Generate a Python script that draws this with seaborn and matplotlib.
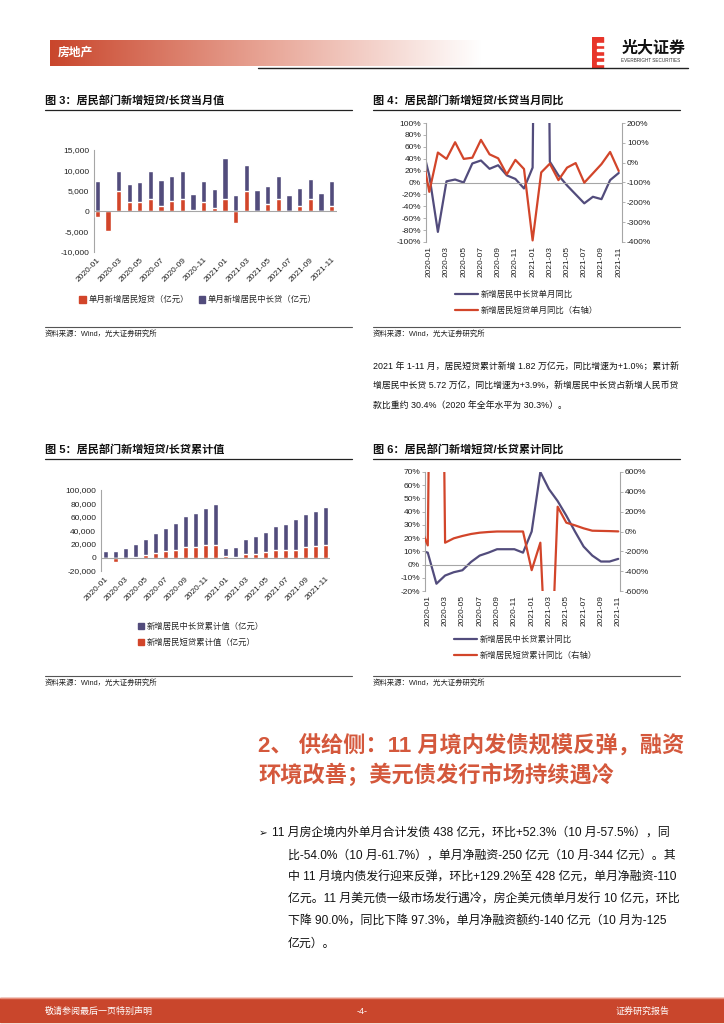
import numpy as np
import matplotlib
matplotlib.use("Agg")
import matplotlib.pyplot as plt
from matplotlib.patches import Rectangle, Patch
from matplotlib.lines import Line2D
from matplotlib.ticker import FuncFormatter, MultipleLocator
import seaborn as sns

W, H = 724, 1024

RED = "#D2452A"
PURPLE = "#524C7C"
GRAY = "#A6A6A6"
HEAD_RED = "#C9462C"

# ---- data ----
months = ["2020-01", "2020-02", "2020-03", "2020-04", "2020-05", "2020-06",
          "2020-07", "2020-08", "2020-09", "2020-10", "2020-11", "2020-12",
          "2021-01", "2021-02", "2021-03", "2021-04", "2021-05", "2021-06",
          "2021-07", "2021-08", "2021-09", "2021-10", "2021-11"]
tick_months = months[::2]

# fig 3: monthly new household short / long loans (100m yuan)
short_month = [-1400, -4900, 5000, 2150, 2150, 3070, 1160, 2570, 3070, 200, 2240, 830,
               3070, -2900, 4980, 100, 1660, 3070, 0, 1160, 3070, 0, 1160]
long_month = [7500, 250, 4950, 4480, 4980, 6800, 6470, 5970, 6800, 4100, 5220, 4640,
              9870, 3980, 6460, 5100, 4560, 5640, 3980, 4640, 4890, 4560, 6140]

# fig 4: monthly yoy (%), first point is 2019-12
line_months = ["2019-12"] + months
long_yoy_month = [70, 12, -83, 2, 5, 0, 32, 37, 23, 29, 12, 6, -10,
                  25, 1500, 35, 12, -5, -20, -35, -24, -28, 4, 16]
short_yoy_month = [84, -147, 51, 19, 103, 19, 25, 115, 42, 22, -59, 14, -32,
                   -392, -49, -5, -88, -25, -2, -101, -54, -7, 54, -42]

# fig 5: cumulative values (100m yuan)
short_cum = [-1500, -6400, -1300, 850, 3460, 7400, 9400, 11850, 15300, 15300, 17800, 18760,
             2500, 300, 5900, 5900, 7900, 11360, 11360, 11850, 15300, 16300, 18200]
long_cum = [8900, 8900, 14800, 18900, 24200, 28600, 35000, 40000, 46400, 50900, 55200, 60200,
            12300, 15500, 21300, 25700, 30100, 35000, 38500, 44500, 48900, 51900, 57200]

# fig 6: cumulative yoy (%), first point is 2019-12
long_yoy_cum = [11, 9, -14.5, -8.3, -5.8, -4.3, 2, 6.8, 9, 11.6, 11.6, 11.6, 9,
                25, 70, 57, 48, 37, 25, 13.6, 6.8, 2.3, 2.3, 4.3]
short_yoy_cum = [80, -140, 8000, -113, -69, -45, -25, -12, -5, 0, 0, 0, 0,
                 -390, -113, -2000, 250, 89, 62, 32, 8, 6, 4, 1]

para1 = ["2021 年 1-11 月，居民短贷累计新增 1.82 万亿元，同比增速为+1.0%；累计新",
         "增居民中长贷 5.72 万亿，同比增速为+3.9%，新增居民中长贷占新增人民币贷",
         "款比重约 30.4%（2020 年全年水平为 30.3%）。"]
heading = ["2、 供给侧：11 月境内发债规模反弹，融资",
           "环境改善；美元债发行市场持续遇冷"]
bullet = ["11 月房企境内外单月合计发债 438 亿元，环比+52.3%（10 月-57.5%），同",
          "比-54.0%（10 月-61.7%），单月净融资-250 亿元（10 月-344 亿元）。其",
          "中 11 月境内债发行迎来反弹，环比+129.2%至 428 亿元，单月净融资-110",
          "亿元。11 月美元债一级市场发行遇冷，房企美元债单月发行 10 亿元，环比",
          "下降 90.0%，同比下降 97.3%，单月净融资额约-140 亿元（10 月为-125",
          "亿元）。"]

sns.set_theme(style="white")
plt.rcParams["font.family"] = ["Liberation Sans", "Noto Sans CJK SC", "DejaVu Sans"]
plt.rcParams["axes.unicode_minus"] = False

fig = plt.figure(figsize=(W / 100, H / 100), dpi=100)


def px_axes(l, t, r, b):
    return fig.add_axes([l / W, 1 - b / H, (r - l) / W, (b - t) / H])


def ftext(x, y, s, **kw):
    kw.setdefault("va", "center")
    fig.text(x / W, 1 - y / H, s, **kw)


def hline(x0, x1, y, color="#333333", lw=0.8):
    fig.add_artist(Line2D([x0 / W, x1 / W], [1 - y / H, 1 - y / H], color=color, lw=lw))


def style_axis(ax):
    for s in ["top", "bottom", "right"]:
        ax.spines[s].set_visible(False)
    ax.spines["left"].set_color(GRAY)
    ax.spines["left"].set_linewidth(0.8)
    ax.tick_params(axis="both", labelsize=6, colors="#222222", length=2, width=0.6, pad=1.5)
    ax.tick_params(axis="y", color=GRAY)
    ax.tick_params(axis="x", length=0)
    ax.grid(False)
    ax.set_xlabel("")
    ax.set_ylabel("")


def right_spine(ax):
    ax.spines["left"].set_visible(False)
    ax.spines["right"].set_visible(True)
    ax.spines["right"].set_color(GRAY)
    ax.spines["right"].set_linewidth(0.8)


# ---- header / footer ----
grad = np.linspace(0, 1, 256).reshape(1, -1)
hax = px_axes(50, 40, 482, 66)
hax.imshow(grad, aspect="auto", extent=(0, 1, 0, 1),
           cmap=matplotlib.colors.LinearSegmentedColormap.from_list("g", [HEAD_RED, "#E8A596", "#FFFFFF"]))
hax.axis("off")
ftext(58, 53, "房地产", color="white", fontsize=8.5, fontweight="bold")
hline(258, 688, 67.5, color="#222222", lw=1.0)

lax = px_axes(592, 37, 606, 69)
lax.set_xlim(0, 1)
lax.set_ylim(0, 1)
lax.axis("off")
lax.add_patch(Rectangle((0, 0), 0.75, 1, color="#E8352A"))
for yy in [0.2, 0.4, 0.6, 0.8]:
    lax.add_patch(Rectangle((0.35, yy - 0.04), 0.65, 0.06, color="white"))
ftext(622, 48, "光大证券", fontsize=11.5, fontweight="bold", color="#111111")
ftext(621, 61, "EVERBRIGHT SECURITIES", fontsize=3.3, color="#333333")

fig.add_artist(Rectangle((0, 1 - 1022 / H), 1, 24 / H, transform=fig.transFigure,
                         color=HEAD_RED, zorder=0))
hline(0, 724, 998, color="#E7907E", lw=1.0)
ftext(45, 1011, "敬请参阅最后一页特别声明", color="white", fontsize=6.5)
ftext(362, 1011, "-4-", color="white", fontsize=6.5, ha="center")
ftext(616, 1011, "证券研究报告", color="white", fontsize=6.5)

# ---- titles & sources ----
for x0, x1, y, t in [(45, 352, 100, "图 3：居民部门新增短贷/长贷当月值"),
                     (373, 680, 100, "图 4：居民部门新增短贷/长贷当月同比"),
                     (45, 352, 449, "图 5：居民部门新增短贷/长贷累计值"),
                     (373, 680, 449, "图 6：居民部门新增短贷/长贷累计同比")]:
    ftext(x0, y, t, fontsize=8, fontweight="bold", color="#111111")
    hline(x0, x1, y + 10, color="#222222", lw=0.9)

for x0, x1, y in [(45, 352, 327), (373, 680, 327), (45, 352, 676), (373, 680, 676)]:
    hline(x0, x1, y, color="#555555", lw=0.8)
    ftext(x0, y + 7, "资料来源：Wind，光大证券研究所", fontsize=5.3, color="#222222")

# ---- fig 3 ----
ax3 = px_axes(94, 150, 337, 252)
tot_month = [l + max(s, 0) for s, l in zip(short_month, long_month)]
sns.barplot(x=months, y=tot_month, color=PURPLE, saturation=1, width=0.5,
            errorbar=None, ax=ax3, zorder=2)
sns.barplot(x=months, y=short_month, color=RED, saturation=1, width=0.5,
            errorbar=None, ax=ax3, zorder=3)
ax3.set_xlim(-0.3, 22.5)
ax3.set_ylim(-10000, 15000)
ax3.yaxis.set_major_locator(MultipleLocator(5000))
ax3.yaxis.set_major_formatter(FuncFormatter(lambda v, p: f"{v:,.0f}"))
ax3.axhline(0, color=GRAY, lw=0.8, zorder=4)
style_axis(ax3)
ax3.set_xticks(range(0, 23, 2))
ax3.set_xticklabels(tick_months, rotation=45, ha="right", rotation_mode="anchor")
ax3.tick_params(axis="x", pad=3)
ax3.legend(handles=[Patch(color=RED, label="单月新增居民短贷（亿元）"),
                    Patch(color=PURPLE, label="单月新增居民中长贷（亿元）")],
           loc="center", bbox_to_anchor=(198 / W, 1 - 300 / H), bbox_transform=fig.transFigure,
           ncol=2, frameon=False, fontsize=6, handlelength=0.8, handleheight=0.8,
           handletextpad=0.3, columnspacing=1.2)

# ---- fig 4 ----
xpos = np.arange(-1, 23)
ax4 = px_axes(426, 123, 622, 242)
ax4b = ax4.twinx()
sns.lineplot(x=xpos, y=long_yoy_month, ax=ax4, color=PURPLE, lw=1.6)
sns.lineplot(x=xpos, y=short_yoy_month, ax=ax4b, color=RED, lw=1.6)
ax4.set_xlim(-0.38, 22.38)
ax4.set_ylim(-100, 100)
ax4b.set_ylim(-400, 200)
ax4.yaxis.set_major_locator(MultipleLocator(20))
ax4b.yaxis.set_major_locator(MultipleLocator(100))
ax4.yaxis.set_major_formatter(FuncFormatter(lambda v, p: f"{v:.0f}%"))
ax4b.yaxis.set_major_formatter(FuncFormatter(lambda v, p: f"{v:.0f}%"))
ax4.axhline(0, color=GRAY, lw=0.8)
style_axis(ax4)
style_axis(ax4b)
right_spine(ax4b)
ax4.set_xticks(range(0, 23, 2))
ax4.set_xticklabels(tick_months, rotation=90)
ax4.tick_params(axis="x", pad=3)
ax4.legend(handles=[Line2D([], [], color=PURPLE, lw=1.6, label="新增居民中长贷单月同比"),
                    Line2D([], [], color=RED, lw=1.6, label="新增居民短贷单月同比（右轴）")],
           loc="upper left", bbox_to_anchor=(447 / W, 1 - 283 / H), bbox_transform=fig.transFigure,
           ncol=1, frameon=False, fontsize=6, handlelength=2.8, handletextpad=0.3,
           labelspacing=0.9)

# ---- paragraph ----
for i, s in enumerate(para1):
    ftext(373, 366 + i * 19.5, s, fontsize=6.4, color="#111111")

# ---- fig 5 ----
ax5 = px_axes(101, 490, 330, 571)
tot_cum = [l + max(s, 0) for s, l in zip(short_cum, long_cum)]
sns.barplot(x=months, y=tot_cum, color=PURPLE, saturation=1, width=0.5,
            errorbar=None, ax=ax5, zorder=2)
sns.barplot(x=months, y=short_cum, color=RED, saturation=1, width=0.5,
            errorbar=None, ax=ax5, zorder=3)
ax5.set_xlim(-0.4, 22.4)
ax5.set_ylim(-20000, 100000)
ax5.yaxis.set_major_locator(MultipleLocator(20000))
ax5.yaxis.set_major_formatter(FuncFormatter(lambda v, p: f"{v:,.0f}"))
ax5.axhline(0, color=GRAY, lw=0.8, zorder=4)
style_axis(ax5)
ax5.set_xticks(range(0, 23, 2))
ax5.set_xticklabels(tick_months, rotation=45, ha="right", rotation_mode="anchor")
ax5.tick_params(axis="x", pad=3)
ax5.legend(handles=[Patch(color=PURPLE, label="新增居民中长贷累计值（亿元）"),
                    Patch(color=RED, label="新增居民短贷累计值（亿元）")],
           loc="upper left", bbox_to_anchor=(130 / W, 1 - 615 / H), bbox_transform=fig.transFigure,
           ncol=1, frameon=False, fontsize=6, handlelength=0.8, handleheight=0.8,
           handletextpad=0.3, labelspacing=0.9)

# ---- fig 6 ----
ax6 = px_axes(425, 472, 620, 591)
ax6b = ax6.twinx()
sns.lineplot(x=xpos, y=long_yoy_cum, ax=ax6, color=PURPLE, lw=1.6)
sns.lineplot(x=xpos, y=short_yoy_cum, ax=ax6b, color=RED, lw=1.6)
ax6.set_xlim(-0.32, 22.2)
ax6.set_ylim(-20, 70)
ax6b.set_ylim(-600, 600)
ax6.yaxis.set_major_locator(MultipleLocator(10))
ax6b.yaxis.set_major_locator(MultipleLocator(200))
ax6.yaxis.set_major_formatter(FuncFormatter(lambda v, p: f"{v:.0f}%"))
ax6b.yaxis.set_major_formatter(FuncFormatter(lambda v, p: f"{v:.0f}%"))
ax6.axhline(0, color=GRAY, lw=0.8)
style_axis(ax6)
style_axis(ax6b)
right_spine(ax6b)
ax6.set_xticks(range(0, 23, 2))
ax6.set_xticklabels(tick_months, rotation=90)
ax6.tick_params(axis="x", pad=3)
ax6.legend(handles=[Line2D([], [], color=PURPLE, lw=1.6, label="新增居民中长贷累计同比"),
                    Line2D([], [], color=RED, lw=1.6, label="新增居民短贷累计同比（右轴）")],
           loc="upper left", bbox_to_anchor=(446 / W, 1 - 628 / H), bbox_transform=fig.transFigure,
           ncol=1, frameon=False, fontsize=6, handlelength=2.8, handletextpad=0.3,
           labelspacing=0.9)

# ---- section heading & bullet ----
for i, s in enumerate(heading):
    ftext(258, 746 + i * 29, s, fontsize=16, fontweight="bold", color="#D4583C")

ftext(259, 833, "➢", fontsize=7.5, color="#111111")
for i, s in enumerate(bullet):
    ftext(272 if i == 0 else 288, 833 + i * 22.2, s, fontsize=8.6, color="#111111")

fig.savefig("out.png", dpi=100)
